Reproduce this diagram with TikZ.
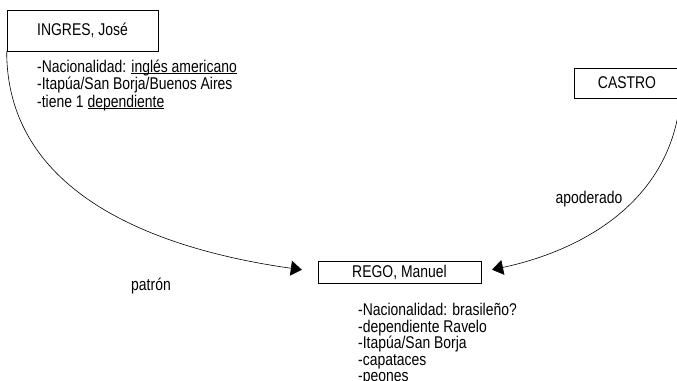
\documentclass[tikz,border=0pt]{standalone}
\usepackage{fontspec}
\setmainfont{Liberation Sans}[FakeStretch=0.82]
\usetikzlibrary{arrows.meta}

\newcommand\subr[1]{\underline{\smash{#1}}}

\tikzset{
    caja/.style={draw, line width=0.6pt, inner sep=0pt},
    nota/.style={align=left, anchor=north west, inner sep=0pt},
    flecha/.style={line width=0.6pt, -{Triangle[length=11pt,width=15pt]}},
}

\begin{document}
\begin{tikzpicture}[x=1pt,y=-1pt,font=\fontsize{17}{16.6}\selectfont]
        \clip (0,0) rectangle (677,380);
        \node[caja, minimum width=151pt, minimum height=41pt] (ingres) at (82.5,30.5) {INGRES, José};
        \node[caja, minimum width=106pt, minimum height=30pt] (castro) at (627,83) {CASTRO};
        \node[caja, minimum width=163pt, minimum height=22pt] (rego) at (399.5,272) {REGO, Manuel};
        \node[nota, font=\fontsize{17}{17.5}\selectfont] (ingresdatos) at (37,59.5) {-Nacionalidad: \subr{inglés americano}\\-Itapúa/San Borja/Buenos Aires\\-tiene 1 \subr{dependiente}};
        \node[nota] (regodatos) at (358,303) {-Nacionalidad: brasileño?\\-dependiente Ravelo\\-Itapúa/San Borja\\-capataces\\-peones};
        \node (patron) at (151,286) {patrón};
        \node (apoderado) at (589,199) {apoderado};
        \draw[flecha, shorten >=16pt] (ingres.south west) to[out=-90, in=172] (rego.west);
        \draw[flecha, shorten >=11pt] (castro.south east) to[out=-95, in=12] (rego.east);
\end{tikzpicture}
\end{document}
